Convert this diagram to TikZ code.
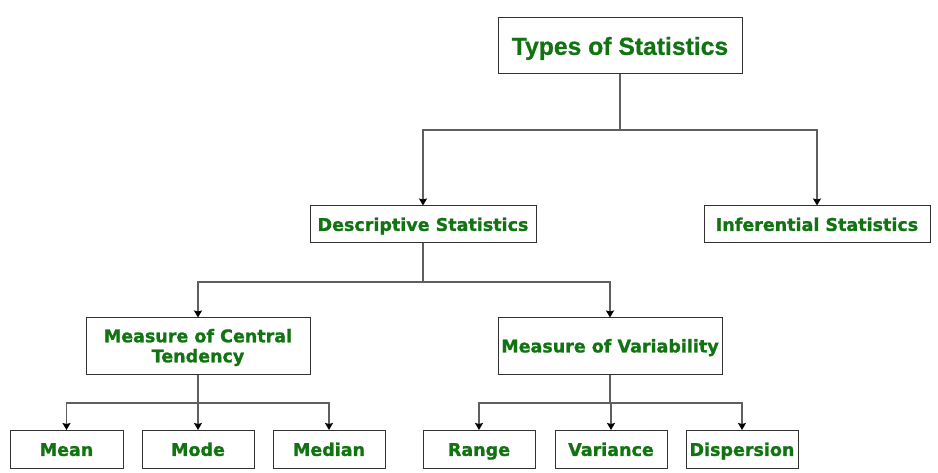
\documentclass[tikz,border=0pt]{standalone}
\usepackage{fontspec}
\setmainfont[BoldFeatures={FakeBold=1.2}]{DejaVu Sans}
\newfontfamily\titlefont[BoldFeatures={FakeBold=0.8}]{Liberation Sans}
\usetikzlibrary{arrows.meta}
\definecolor{txtgreen}{RGB}{18,115,18}
\definecolor{boxline}{RGB}{50,50,50}
\definecolor{conline}{RGB}{95,95,95}
\tikzset{
  box/.style={draw=boxline, line width=1pt, fill=white, inner sep=0pt, text=txtgreen,
    font=\fontsize{17.5}{20}\selectfont\bfseries, align=center, text height=12.8pt, text depth=0pt},
  conn/.style={draw=conline, line width=1.3pt},
  arr/.style={conn, -{Stealth[length=7pt,width=8pt,inset=1pt,color=black]}}
}
\begin{document}
\begin{tikzpicture}[x=1pt,y=-1pt]
\useasboundingbox[fill=white] (0,0) rectangle (938,473);
\node[box, minimum width=244, minimum height=56, text height=17.7pt, font=\titlefont\fontsize{24.7}{28}\selectfont\bfseries] (title) at (620,46) {Types of Statistics};
\node[box, minimum width=226, minimum height=37] (desc) at (423,224.5) {Descriptive Statistics};
\node[box, minimum width=226, minimum height=37] (inf) at (817,224.5) {Inferential Statistics};
\node[box, minimum width=224, minimum height=56,
  label={[text=txtgreen, font=\fontsize{17.5}{20}\selectfont\bfseries, align=center, inner sep=0pt, yshift=-1.5pt]center:Measure of Central\\Tendency}] (mct) at (198,346) {};
\node[box, minimum width=224, minimum height=56] (mov) at (610,346) {Measure of Variability};
\node[box, minimum width=113, minimum height=38] (mean) at (66.5,449.5) {Mean};
\node[box, minimum width=112, minimum height=38] (mode) at (198,449.5) {Mode};
\node[box, minimum width=112, minimum height=38] (median) at (329,449.5) {Median};
\node[box, minimum width=112, minimum height=38] (range) at (479,449.5) {Range};
\node[box, minimum width=112, minimum height=38] (variance) at (611,449.5) {Variance};
\node[box, minimum width=112, minimum height=38] (dispersion) at (742,449.5) {Dispersion};
\coordinate (j1) at (620,130);
\coordinate (j2) at (423,282);
\coordinate (j3) at (198,403);
\coordinate (j4) at (610,403);
\draw[conn] (title.south) -- (j1);
\draw[arr] (j1) -| (desc.north);
\draw[arr] (j1) -| (inf.north);
\draw[conn] (desc.south) -- (j2);
\draw[arr] (j2) -| (mct.north);
\draw[arr] (j2) -| (mov.north);
\draw[conn] (mct.south) -- (j3);
\draw[arr] (j3) -| (mean.north);
\draw[arr] (j3) -- (mode.north);
\draw[arr] (j3) -| (median.north);
\draw[conn] (mov.south) -- (j4);
\draw[arr] (j4) -| (range.north);
\draw[arr] (j4) -| (variance.north);
\draw[arr] (j4) -| (dispersion.north);
\end{tikzpicture}
\end{document}
